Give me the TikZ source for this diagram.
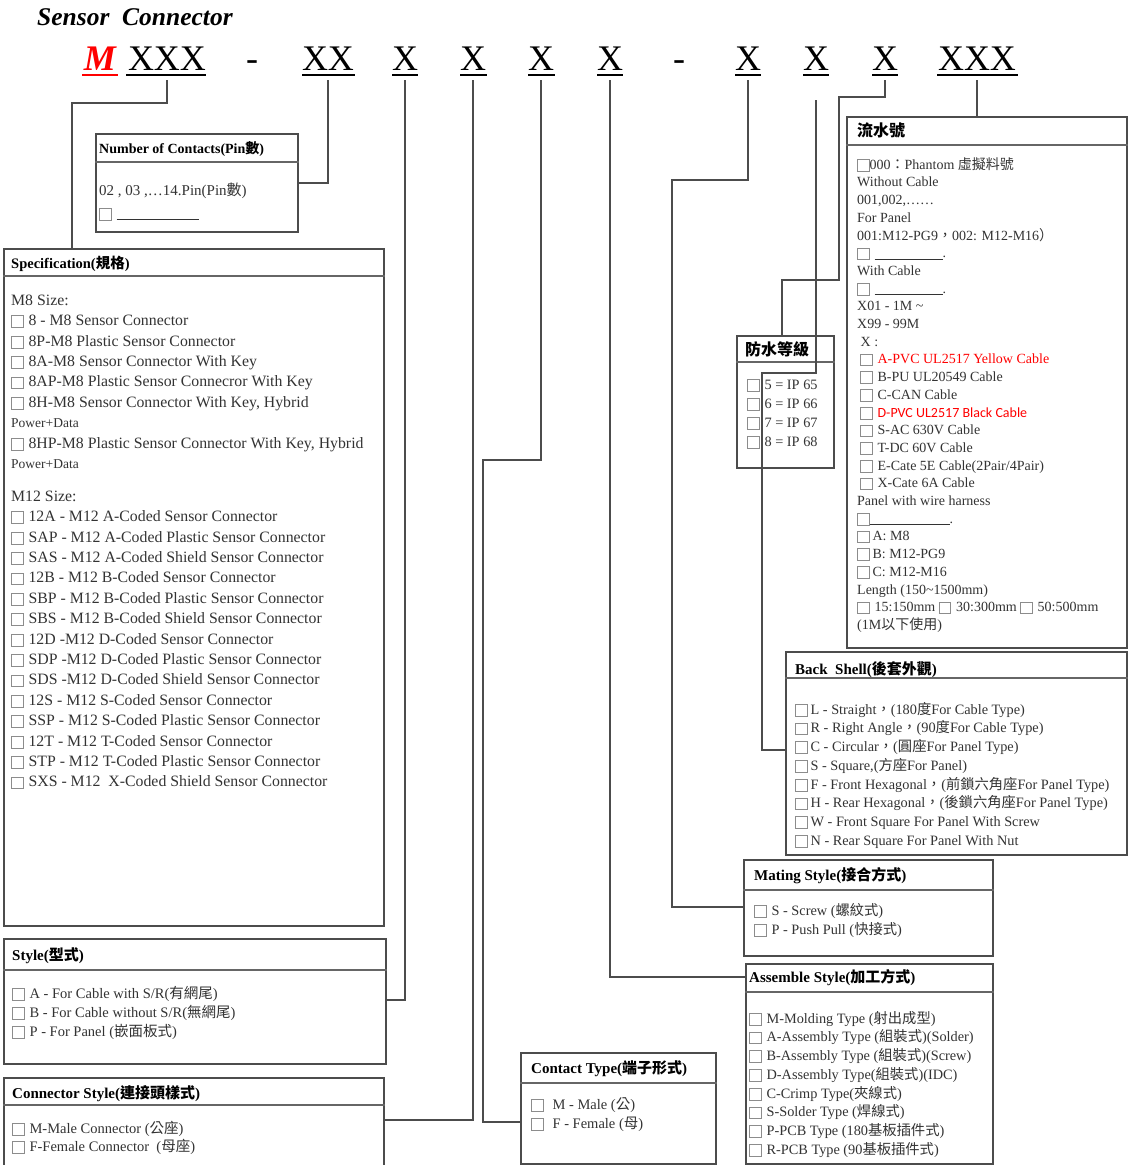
\documentclass[tikz,border=0pt]{standalone}
\usepackage{fontspec}
\setmainfont{Liberation Serif}
\newfontfamily\cjk{Noto Sans CJK TC}
\newfontfamily\calib{Carlito}
\newcommand\cj[1]{{\cjk #1}}
\newcommand\cbx{\raisebox{-1.5pt}{\textcolor{black!45}{\fboxrule=0.7pt\fboxsep=0pt\fbox{\rule{0pt}{11pt}\rule{11pt}{0pt}}}}}
\newcommand\cb{\cbx\hspace{5pt}}
\newcommand\tp{\rule{0pt}{14pt}}
\newcommand\blank[1]{\rule[-1.5pt]{#1}{0.6pt}}
\tikzset{
  box/.style={draw=black!70, line width=1.5pt, anchor=north west, inner sep=0pt},
  conn/.style={draw=black!70, line width=1.3pt},
  sepl/.style={draw=black!60, line width=1.3pt},
  ttl/.style={anchor=base west, inner sep=0pt, font=\fontsize{15}{18}\selectfont\bfseries, text=black},
  body/.style={anchor=north west, inner sep=0pt, align=left, text=black!80},
  hdr/.style={anchor=base, inner sep=0pt, text depth=10pt, font=\fontsize{36}{40}\selectfont, text=black},
  uline/.style={draw=black, line width=2.2pt},
}
\begin{document}
\begin{tikzpicture}[x=1pt,y=-1pt]
\useasboundingbox (0,0) rectangle (1128,1165);
\clip (0,0) rectangle (1128,1165);
\fill[white] (0,0) rectangle (1128,1165);

% ---------- header ----------
\node[anchor=base west, inner sep=0pt, font=\fontsize{25.5}{28}\selectfont\bfseries\itshape] (title) at (37,25) {Sensor\ \ Connector};
\node[hdr, text=red, font=\fontsize{36}{40}\selectfont\bfseries\itshape] (gM) at (100,70) {M};
\node[hdr] (g1) at (167,70) {XXX};
\node[hdr] (d1) at (252,70) {-};
\node[hdr] (g2) at (328,70) {XX};
\node[hdr] (g3) at (405,70) {X};
\node[hdr] (g4) at (473,70) {X};
\node[hdr] (g5) at (541,70) {X};
\node[hdr] (g6) at (610,70) {X};
\node[hdr] (d2) at (679,70) {-};
\node[hdr] (g7) at (748,70) {X};
\node[hdr] (g8) at (816,70) {X};
\node[hdr] (g9) at (885,70) {X};
\node[hdr] (g10) at (977,70) {XXX};
\draw[uline, draw=red] (82,75) -- (118,75);
\draw[uline] (126,75) -- (206,75);
\draw[uline] (302,75) -- (355,75);
\draw[uline] (392,75) -- (418,75);
\draw[uline] (460,75) -- (487,75);
\draw[uline] (528,75) -- (555,75);
\draw[uline] (597,75) -- (623,75);
\draw[uline] (735,75) -- (761,75);
\draw[uline] (803,75) -- (829,75);
\draw[uline] (872,75) -- (898,75);
\draw[uline] (937,75) -- (1018,75);

% ---------- boxes ----------
\node[box, minimum width=202pt, minimum height=98pt] (noc) at (95,133) {};
\node[box, minimum width=380pt, minimum height=677pt] (spec) at (3,248) {};
\node[box, minimum width=382pt, minimum height=125pt] (sty) at (3,938) {};
\node[box, minimum width=380pt, minimum height=110pt] (cst) at (3,1077) {};
\node[box, minimum width=195pt, minimum height=111pt] (ctt) at (520,1052) {};
\node[box, minimum width=247pt, minimum height=200pt] (asm) at (745,963) {};
\node[box, minimum width=249pt, minimum height=96pt] (mat) at (743,859) {};
\node[box, minimum width=341pt, minimum height=203pt] (bsh) at (785,651) {};
\node[box, minimum width=97pt, minimum height=132pt] (wp) at (736,335) {};
\node[box, minimum width=280pt, minimum height=531pt] (lsh) at (846,116) {};

% separators
\draw[sepl] (noc.west |- 0,162) -- (noc.east |- 0,162);
\draw[sepl] (spec.west |- 0,276) -- (spec.east |- 0,276);
\draw[sepl] (sty.west |- 0,970) -- (sty.east |- 0,970);
\draw[sepl] (cst.west |- 0,1105) -- (cst.east |- 0,1105);
\draw[sepl] (ctt.west |- 0,1083) -- (ctt.east |- 0,1083);
\draw[sepl] (asm.west |- 0,992) -- (asm.east |- 0,992);
\draw[sepl] (mat.west |- 0,890) -- (mat.east |- 0,890);
\draw[sepl] (bsh.west |- 0,678) -- (bsh.east |- 0,678);
\draw[sepl] (wp.west |- 0,362) -- (wp.east |- 0,362);
\draw[sepl] (lsh.west |- 0,145) -- (lsh.east |- 0,145);

% titles
\node[ttl, font=\fontsize{14}{17}\selectfont\bfseries] (tnoc) at (99,153) {Number of Contacts(Pin\cj{數})};
\node[ttl, font=\fontsize{14.5}{17}\selectfont\bfseries] (tspec) at (11,268) {Specification(\cj{規格})};
\node[ttl] (tsty) at (12,960) {Style(\cj{型式})};
\node[ttl] (tcst) at (12,1098) {Connector Style(\cj{連接頭樣式})};
\node[ttl] (tctt) at (531,1073) {Contact Type(\cj{端子形式})};
\node[ttl] (tasm) at (749,982) {Assemble Style(\cj{加工方式})};
\node[ttl] (tmat) at (754,880) {Mating Style(\cj{接合方式})};
\node[ttl] (tbsh) at (795,674) {Back\ \ Shell(\cj{後套外觀})};
\node[ttl, font=\fontsize{16}{18}\selectfont\bfseries] (twp) at (745,355) {\cj{防水等級}};
\node[ttl, font=\fontsize{16}{18}\selectfont\bfseries] (tlsh) at (857,136) {\cj{流水號}};

% bodies
\node[body, font=\fontsize{15}{23}\selectfont] (bnoc) at (99,181) {\tp02 , 03 ,…14.Pin(Pin\cj{數})\\\cb\blank{82pt}};

\node[body, font=\fontsize{15.8}{20.4}\selectfont] (bspec1) at (11,291) {\tp M8 Size:\\
\cb 8 - M8 Sensor Connector\\
\cb 8P-M8 Plastic Sensor Connector\\
\cb 8A-M8 Sensor Connector With Key\\
\cb 8AP-M8 Plastic Sensor Connecror With Key\\
\cb 8H-M8 Sensor Connector With Key, Hybrid\\
{\fontsize{13.5}{20.4}\selectfont Power+Data}\\
\cb 8HP-M8 Plastic Sensor Connector With Key, Hybrid\\
{\fontsize{13.5}{20.4}\selectfont Power+Data}};

\node[body, font=\fontsize{15.8}{20.4}\selectfont] (bspec2) at (11,487) {\tp M12 Size:\\
\cb 12A - M12 A-Coded Sensor Connector\\
\cb SAP - M12 A-Coded Plastic Sensor Connector\\
\cb SAS - M12 A-Coded Shield Sensor Connector\\
\cb 12B - M12 B-Coded Sensor Connector\\
\cb SBP - M12 B-Coded Plastic Sensor Connector\\
\cb SBS - M12 B-Coded Shield Sensor Connector\\
\cb 12D -M12 D-Coded Sensor Connector\\
\cb SDP -M12 D-Coded Plastic Sensor Connector\\
\cb SDS -M12 D-Coded Shield Sensor Connector\\
\cb 12S - M12 S-Coded Sensor Connector\\
\cb SSP - M12 S-Coded Plastic Sensor Connector\\
\cb 12T - M12 T-Coded Sensor Connector\\
\cb STP - M12 T-Coded Plastic Sensor Connector\\
\cb SXS - M12\ \ X-Coded Shield Sensor Connector};

\node[body, font=\fontsize{14.5}{19}\selectfont] (bsty) at (12,984) {\tp\cb A - For Cable with S/R(\cj{有網尾})\\
\cb B - For Cable without S/R(\cj{無網尾})\\
\cb P - For Panel (\cj{嵌面板式})};

\node[body, font=\fontsize{14.5}{18}\selectfont] (bcst) at (12,1119) {\tp\cb M-Male Connector (\cj{公座})\\
\cb F-Female Connector\ \ (\cj{母座})};

\node[body, font=\fontsize{14.5}{19}\selectfont] (bctt) at (531,1095) {\tp\cbx\hspace{9pt}M - Male (\cj{公})\\
\cbx\hspace{9pt}F - Female (\cj{母})};

\node[body, font=\fontsize{14.3}{18.7}\selectfont] (basm) at (749,1009) {\tp\cb M-Molding Type (\cj{射出成型})\\
\cb A-Assembly Type (\cj{組裝式})(Solder)\\
\cb B-Assembly Type (\cj{組裝式})(Screw)\\
\cb D-Assembly Type(\cj{組裝式})(IDC)\\
\cb C-Crimp Type(\cj{夾線式})\\
\cb S-Solder Type (\cj{焊線式})\\
\cb P-PCB Type (180\cj{基板插件式})\\
\cb R-PCB Type (90\cj{基板插件式})};

\node[body, font=\fontsize{14.3}{19}\selectfont] (bmat) at (754,901) {\tp\cb S - Screw (\cj{螺紋式})\\
\cb P - Push Pull (\cj{快接式})};

\node[body, font=\fontsize{14.3}{18.7}\selectfont] (bbsh) at (795,700) {\tp\cbx\hspace{3pt}L - Straight\cj{，}(180\cj{度}For Cable Type)\\
\cbx\hspace{3pt}R - Right Angle\cj{，}(90\cj{度}For Cable Type)\\
\cbx\hspace{3pt}C - Circular\cj{，}(\cj{圓座}For Panel Type)\\
\cbx\hspace{3pt}S - Square,(\cj{方座}For Panel)\\
\cbx\hspace{3pt}F - Front Hexagonal\cj{，}(\cj{前鎖六角座}For Panel Type)\\
\cbx\hspace{3pt}H - Rear Hexagonal\cj{，}(\cj{後鎖六角座}For Panel Type)\\
\cbx\hspace{3pt}W - Front Square For Panel With Screw\\
\cbx\hspace{3pt}N - Rear Square For Panel With Nut};

\node[body, font=\fontsize{14.3}{19}\selectfont] (bwp) at (747,375) {\tp\cb 5 = IP 65\\
\cb 6 = IP 66\\
\cb 7 = IP 67\\
\cb 8 = IP 68};

\node[body, font=\fontsize{14}{17.7}\selectfont] (blsh) at (857,155) {\tp\cbx000\cj{：}Phantom \cj{虛擬料號}\\
Without Cable\\
001,002,……\\
For Panel\\
001:M12-PG9\cj{，}002: M12-M16\cj{）}\\
\cb\blank{68pt}.\\
With Cable\\
\cb\blank{68pt}.\\
X01 - 1M \textasciitilde\\
X99 - 99M\\
\ X :\\
\hspace{3pt}\cb{\color{red}A-PVC UL2517 Yellow Cable}\\
\hspace{3pt}\cb B-PU UL20549 Cable\\
\hspace{3pt}\cb C-CAN Cable\\
\hspace{3pt}\cb{\color{red}\calib D-PVC UL2517 Black Cable}\\
\hspace{3pt}\cb S-AC 630V Cable\\
\hspace{3pt}\cb T-DC 60V Cable\\
\hspace{3pt}\cb E-Cate 5E Cable(2Pair/4Pair)\\
\hspace{3pt}\cb X-Cate 6A Cable\\
Panel with wire harness\\
\cbx\blank{80pt}.\\
\cbx\hspace{3pt}A: M8\\
\cbx\hspace{3pt}B: M12-PG9\\
\cbx\hspace{3pt}C: M12-M16\\
Length (150\textasciitilde 1500mm)\\
\cb 15:150mm \cb 30:300mm \cb 50:500mm\\
(1M\cj{以下使用})};

% ---------- connectors ----------
\coordinate (c8s) at (816,100);
\draw[conn] (g1.south) |- (72,103) -- (spec.north -| 72,0);
\draw[conn] (g2.south) |- (noc.east |- 0,183);
\draw[conn] (g3.south) |- (sty.east |- 0,1000);
\draw[conn] (g4.south) |- (cst.east |- 0,1120);
\draw[conn] (g5.south) |- (483,460) |- (ctt.west |- 0,1122);
\draw[conn] (g6.south) |- (asm.west |- 0,977);
\draw[conn] (g7.south) |- (672,180) |- (mat.west |- 0,907);
\draw[conn] (c8s) |- (762,373) |- (bsh.west |- 0,750);
\draw[conn] (g9.south) |- (839,97) |- (782,280) -- (wp.north -| 782,0);
\draw[conn] (g10.south) -- (lsh.north -| g10.south);
\end{tikzpicture}
\end{document}
